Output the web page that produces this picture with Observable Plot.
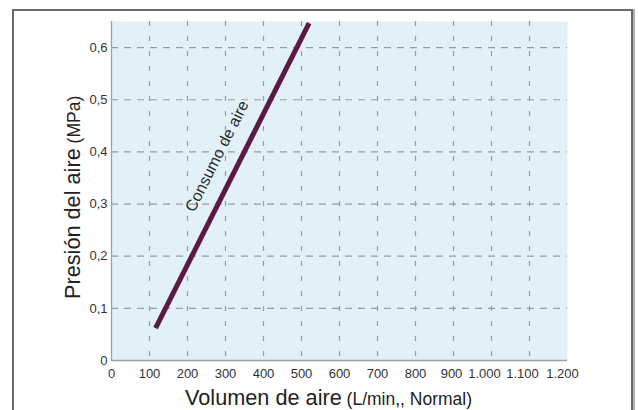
<!DOCTYPE html>
<html>
<head>
<meta charset="utf-8">
<script src="https://cdn.jsdelivr.net/npm/d3@7"></script>
<script src="https://cdn.jsdelivr.net/npm/@observablehq/plot@0.6"></script>
<style>
  html, body { margin: 0; padding: 0; background: #fff; width: 638px; height: 410px; overflow: hidden; }
  #frame { position: absolute; left: 12px; top: 9px; width: 617px; height: 430px; border: 2px solid #6a6a6a; box-shadow: 2px 0 0 #b0b0b0; }
  #chart { position: absolute; left: 0; top: 0; }
  svg { font-family: "Liberation Sans", Arial, sans-serif; }
</style>
</head>
<body>
<div id="frame"></div>
<div id="chart"></div>
<script>
// Data
const volumen = [116, 520];          // L/min (Normal)
const presion = [0.062, 0.647];      // MPa
const xTicks = [0, 100, 200, 300, 400, 500, 600, 700, 800, 900, 1000, 1100, 1200];
const yTicks = [0, 0.1, 0.2, 0.3, 0.4, 0.5, 0.6];
const xGrid = [100, 200, 300, 400, 500, 600, 700, 800, 900, 1000, 1100];
const yGrid = [0.1, 0.2, 0.3, 0.4, 0.5, 0.6];
const seriesLabel = "Consumo de aire";
const yTitle = ["Presión del aire", "(MPa)"];
const xTitle = ["Volumen de aire", "(L/min,, Normal)"];

const loc = d3.formatLocale({decimal: ",", thousands: ".", grouping: [3], currency: ["", "€"]});
const fx = loc.format(",");
const fy = d => d === 0 ? "0" : loc.format(".1f")(d);

const data = volumen.map((v, i) => ({v, p: presion[i]}));
// label anchored on a point along the line
const t = 0.57;
const labelPt = [{v: volumen[0] + t * (volumen[1] - volumen[0]), p: presion[0] + t * (presion[1] - presion[0])}];

const W = 638, H = 410;
const mL = 111, mR = 71, mT = 21, mB = 50;
const pxPerX = (W - mL - mR) / 1200, pxPerY = (H - mT - mB) / 0.65;
const angle = -Math.atan2((presion[1] - presion[0]) * pxPerY, (volumen[1] - volumen[0]) * pxPerX) * 180 / Math.PI;

const tickColor = "#333";
const ax = (ticks, dx) => Plot.axisX(ticks, {tickSize: 0, tickPadding: 8, tickFormat: fx, fontSize: 13, fill: tickColor, label: null, dx});
const plot = Plot.plot({
  width: W, height: H,
  marginLeft: mL, marginRight: mR, marginTop: mT, marginBottom: mB,
  style: {background: "transparent", fontFamily: "Liberation Sans, Arial, sans-serif"},
  x: {domain: [0, 1200]},
  y: {domain: [0, 0.65]},
  marks: [
    Plot.frame({fill: "#e2f1f7", stroke: null}),
    Plot.ruleX(xGrid, {stroke: "#9a9a9a", strokeWidth: 1.2, strokeDasharray: "5,10"}),
    Plot.ruleY(yGrid, {stroke: "#9a9a9a", strokeWidth: 1.2, strokeDasharray: "7,6"}),
    Plot.ruleX([0], {stroke: "#a0a0a0", strokeWidth: 1.3}),
    Plot.ruleY([0], {stroke: "#a0a0a0", strokeWidth: 1.3}),
    ax(xTicks.filter(d => d <= 800), 0),
    ax([900], -2),
    ax([1000], -7),
    ax([1100], -7),
    ax([1200], -5),
    Plot.axisY(yTicks, {tickSize: 0, tickPadding: 4, tickFormat: fy, fontSize: 13, fill: tickColor, label: null}),
    Plot.line(data, {x: "v", y: "p", stroke: "#5b1947", strokeWidth: 5, strokeLinecap: "butt"}),
    Plot.text(labelPt, {x: "v", y: "p", text: () => seriesLabel, rotate: angle, dx: -26, dy: 2, fontSize: 16, fill: "#2a2a2a", textAnchor: "middle"})
  ]
});

const svg = d3.select(plot);
// Axis titles with mixed sizes
const yt = svg.append("text")
  .attr("transform", "translate(80,299) rotate(-90)")
  .attr("text-anchor", "start")
  .attr("fill", "#222");
yt.append("tspan").attr("font-size", 21.7).text(yTitle[0]);
yt.append("tspan").attr("font-size", 17.5).text(" " + yTitle[1]);

const xt = svg.append("text")
  .attr("x", 185).attr("y", 405)
  .attr("text-anchor", "start")
  .attr("fill", "#222");
xt.append("tspan").attr("font-size", 21.7).text(xTitle[0]);
xt.append("tspan").attr("font-size", 17.5).text(" " + xTitle[1]);

document.getElementById("chart").appendChild(plot);
</script>
</body>
</html>
